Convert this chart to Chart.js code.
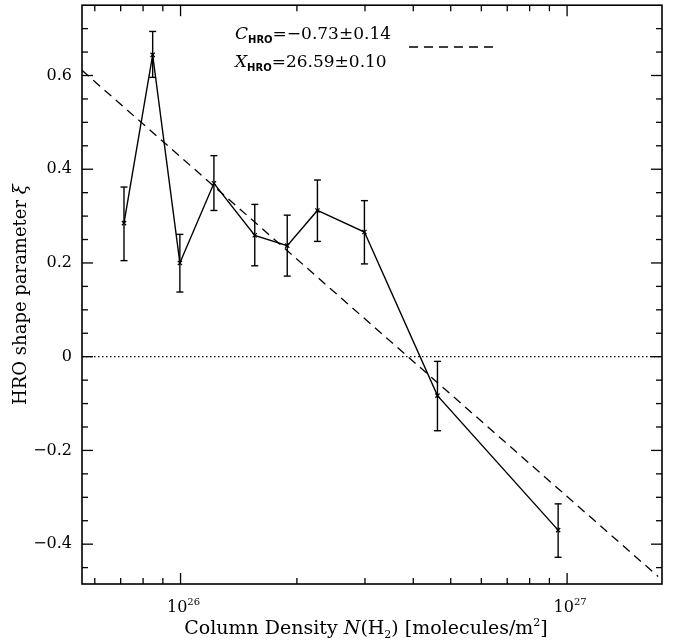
<!DOCTYPE html>
<html>
<head>
<meta charset="utf-8">
<script src="https://cdn.jsdelivr.net/npm/chart.js@4"></script>
<style>
  html, body { margin: 0; padding: 0; background: #fff; }
  #wrap { width: 679px; height: 644px; }
</style>
</head>
<body>
<div id="wrap"><canvas id="chart" width="679" height="644"></canvas></div>
<script>
// column density bins and HRO shape parameter
const densities = [7.14e25, 8.47e25, 9.96e25, 1.22e26, 1.556e26, 1.888e26, 2.26e26, 2.99e26, 4.62e26, 9.48e26];
const xi = [0.285, 0.644, 0.200, 0.370, 0.259, 0.237, 0.312, 0.266, -0.083, -0.370];
const xiHigh = [0.362, 0.694, 0.261, 0.429, 0.325, 0.302, 0.377, 0.333, -0.010, -0.314];
const xiLow = [0.205, 0.596, 0.138, 0.312, 0.194, 0.172, 0.246, 0.198, -0.158, -0.428];

// fitted relation (end points)
const fitX = [5.56e25, 1.72e27];
const fitY = [0.611, -0.469];

// zero reference line
const zeroX = [5.56e25, 1.76e27];
const zeroY = [0, 0];

// axis ranges and ticks
const xMin = 5.56e25, xMax = 1.76e27;
const yMin = -0.485, yMax = 0.75;
const xMajor = [1e26, 1e27];
const xExponents = ['26', '27'];
const xMinor = [6e25, 7e25, 8e25, 9e25, 2e26, 3e26, 4e26, 5e26, 6e26, 7e26, 8e26, 9e26];
const yMajor = [-0.4, -0.2, 0, 0.2, 0.4, 0.6];
const yMinor = [-0.45, -0.35, -0.3, -0.25, -0.15, -0.1, -0.05, 0.05, 0.1, 0.15, 0.25, 0.3, 0.35, 0.45, 0.5, 0.55, 0.65, 0.7];

const fitLabels = [
  { sym: 'C', value: '=\u22120.73\u00b10.14' },
  { sym: 'X', value: '=26.59\u00b10.10' }
];

const SERIF = '"DejaVu Serif", serif';

// draws a run of text pieces with their own fonts and baseline shifts
function drawRich(ctx, parts, x, y, align) {
  let total = 0;
  parts.forEach(p => { ctx.font = p.font; total += ctx.measureText(p.t).width; });
  let cx = align === 'center' ? x - total / 2 : x;
  ctx.textAlign = 'left';
  ctx.textBaseline = 'alphabetic';
  parts.forEach(p => {
    ctx.font = p.font;
    ctx.fillText(p.t, cx, y + (p.dy || 0));
    cx += ctx.measureText(p.t).width;
  });
}

const decorations = {
  id: 'decorations',
  afterDatasetsDraw(chart) {
    const { ctx, chartArea: a, scales: { x, y } } = chart;
    ctx.save();
    ctx.strokeStyle = '#000';
    ctx.fillStyle = '#000';

    const seg = (x1, y1, x2, y2) => {
      ctx.beginPath(); ctx.moveTo(x1, y1); ctx.lineTo(x2, y2); ctx.stroke();
    };

    // error bars
    ctx.lineWidth = 1.4;
    densities.forEach((d, i) => {
      const px = x.getPixelForValue(d);
      const top = y.getPixelForValue(xiHigh[i]);
      const bot = y.getPixelForValue(xiLow[i]);
      seg(px, top, px, bot);
      seg(px - 3.5, top, px + 3.5, top);
      seg(px - 3.5, bot, px + 3.5, bot);
    });

    // inward tick marks on all four sides
    ctx.lineWidth = 1.3;
    xMajor.forEach(v => {
      const px = x.getPixelForValue(v);
      seg(px, a.bottom, px, a.bottom - 11);
      seg(px, a.top, px, a.top + 11);
    });
    xMinor.forEach(v => {
      const px = x.getPixelForValue(v);
      seg(px, a.bottom, px, a.bottom - 6);
      seg(px, a.top, px, a.top + 6);
    });
    yMajor.forEach(v => {
      const py = y.getPixelForValue(v);
      seg(a.left, py, a.left + 11, py);
      seg(a.right, py, a.right - 11, py);
    });
    yMinor.forEach(v => {
      const py = y.getPixelForValue(v);
      seg(a.left, py, a.left + 6, py);
      seg(a.right, py, a.right - 6, py);
    });

    // frame
    ctx.lineWidth = 1.6;
    ctx.strokeRect(a.left, a.top, a.width, a.height);

    // x tick labels as powers of ten
    xMajor.forEach((v, i) => {
      const px = x.getPixelForValue(v);
      drawRich(ctx, [
        { t: '10', font: '16px ' + SERIF },
        { t: xExponents[i], font: '10px ' + SERIF, dy: -7 }
      ], px + 3, a.bottom + 28, 'center');
    });

    // axis titles
    drawRich(ctx, [
      { t: 'Column Density ', font: '19px ' + SERIF },
      { t: 'N', font: 'italic 19px ' + SERIF },
      { t: '(H', font: '19px ' + SERIF },
      { t: '2', font: '11px ' + SERIF, dy: 4 },
      { t: ') [molecules/m', font: '19px ' + SERIF },
      { t: '2', font: '11px ' + SERIF, dy: -8 },
      { t: ']', font: '19px ' + SERIF }
    ], 366, 634, 'center');

    ctx.save();
    ctx.translate(26, (a.top + a.bottom) / 2);
    ctx.rotate(-Math.PI / 2);
    drawRich(ctx, [
      { t: 'HRO shape parameter ', font: '18px ' + SERIF },
      { t: '\u03be', font: 'italic 18px ' + SERIF }
    ], 0, 0, 'center');
    ctx.restore();

    // fit parameters with a dashed key
    fitLabels.forEach((f, i) => {
      drawRich(ctx, [
        { t: f.sym, font: 'italic 17px ' + SERIF },
        { t: 'HRO', font: 'bold 10px "DejaVu Sans", sans-serif', dy: 4 },
        { t: f.value, font: '17px ' + SERIF }
      ], 235, 39 + i * 28, 'left');
    });
    ctx.lineWidth = 1.3;
    ctx.setLineDash([9, 6]);
    seg(409, 47, 494, 47);
    ctx.setLineDash([]);

    ctx.restore();
  }
};

new Chart(document.getElementById('chart'), {
  type: 'line',
  data: {
    datasets: [
      {
        label: 'xi',
        data: densities.map((d, i) => ({ x: d, y: xi[i] })),
        borderColor: '#000',
        borderWidth: 1.4,
        pointStyle: 'crossRot',
        pointRadius: 3,
        pointBorderWidth: 1.2,
        pointBorderColor: '#000',
        tension: 0
      },
      {
        label: 'fit',
        data: fitX.map((d, i) => ({ x: d, y: fitY[i] })),
        borderColor: '#000',
        borderWidth: 1.3,
        borderDash: [9, 6],
        pointRadius: 0
      },
      {
        label: 'zero',
        data: zeroX.map((d, i) => ({ x: d, y: zeroY[i] })),
        borderColor: '#000',
        borderWidth: 1.3,
        borderDash: [1.5, 2.5],
        pointRadius: 0
      }
    ]
  },
  options: {
    responsive: false,
    animation: false,
    layout: { padding: { left: 0, top: 5, right: 17, bottom: 0 } },
    plugins: {
      legend: { display: false },
      tooltip: { enabled: false }
    },
    scales: {
      x: {
        type: 'logarithmic',
        min: xMin,
        max: xMax,
        grid: { display: false },
        border: { display: false },
        ticks: { display: false },
        afterFit: s => { s.height = 60; s.paddingLeft = 0; s.paddingRight = 0; }
      },
      y: {
        type: 'linear',
        min: yMin,
        max: yMax,
        afterBuildTicks: s => { s.ticks = yMajor.map(v => ({ value: v })); },
        grid: { display: false },
        border: { display: false },
        ticks: {
          color: '#000',
          padding: 2,
          font: { family: 'DejaVu Serif', size: 16 },
          callback: v => v === 0 ? '0' : v.toFixed(1).replace('-', '\u2212')
        },
        afterFit: s => { s.width = 82; s.paddingTop = 0; s.paddingBottom = 0; }
      }
    }
  },
  plugins: [decorations]
});
</script>
</body>
</html>
